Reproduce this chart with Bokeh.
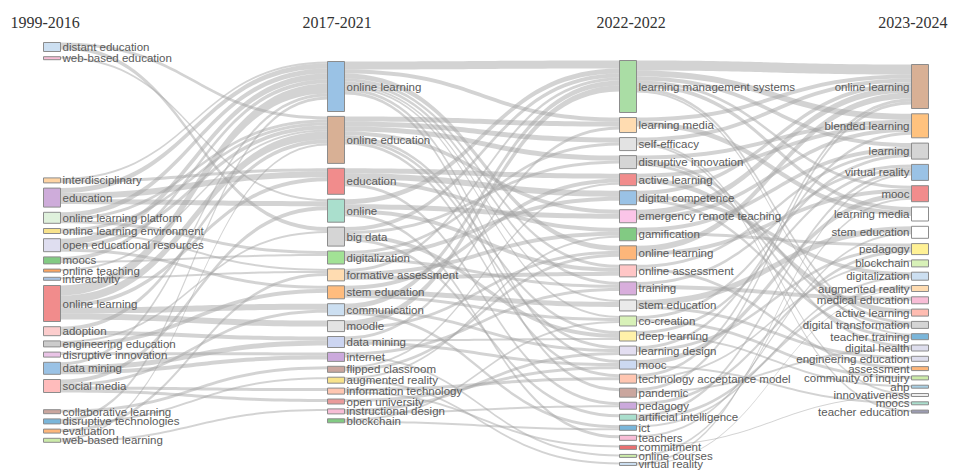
from bokeh.plotting import figure
from bokeh.models import ColumnDataSource, Range1d
from bokeh.embed import file_html
from bokeh.resources import INLINE
from bokeh.core.properties import value
import numpy as np

# ---------------- data ----------------
periods = ["1999-2016", "2017-2021", "2022-2022", "2023-2024"]

c1_names = ["distant education", "web-based education", "interdisciplinary", "education",
            "online learning platform", "online learning environment", "open educational resources",
            "moocs", "online teaching", "interactivity", "online learning", "adoption",
            "engineering education", "disruptive innovation", "data mining", "social media",
            "collaborative learning", "disruptive technologies", "evaluation", "web-based learning"]
c1_weights = [9, 3, 5, 19, 11, 5, 13, 7, 3, 3, 36, 9, 6, 5, 12, 13, 4, 5, 4, 4]
c1_colors = ["#c6dbef", "#f7b6d2", "#ffcf99", "#c9a3d6", "#dcf0d8", "#f7e07f", "#dcdaee",
             "#74c476", "#fd9a4c", "#9ebde0", "#f08080", "#fcc8c8", "#c7c7c7", "#e7bce3",
             "#8fbbe2", "#ffb5b5", "#c49c94", "#6baed6", "#fdae6b", "#c7e9a0"]

c2_names = ["online learning", "online education", "education", "online", "big data",
            "digitalization", "formative assessment", "stem education", "communication", "moodle",
            "data mining", "internet", "flipped classroom", "augmented reality",
            "information technology", "open university", "instructional design", "blockchain"]
c2_weights = [50, 47, 26, 23, 19, 13, 12, 13, 12, 11, 11, 9, 6, 6, 6, 5, 5, 4]
c2_colors = ["#8fbbe2", "#d4a78a", "#f08080", "#a1dcc8", "#d0d0d0", "#98df8a", "#ffd8a8",
             "#ffb570", "#c6dbef", "#e0e0e0", "#c6d0ef", "#c5a0d8", "#c49c94", "#f7e07f",
             "#ffc0a8", "#e89090", "#f7b6d2", "#74c476"]

c3_names = ["learning management systems", "learning media", "self-efficacy", "disruptive innovation",
            "active learning", "digital competence", "emergency remote teaching", "gamification",
            "online learning", "online assessment", "training", "stem education", "co-creation",
            "deep learning", "learning design", "mooc", "technology acceptance model", "pandemic",
            "pedagogy", "artificial intelligence", "ict", "teachers", "commitment",
            "online courses", "virtual reality"]
c3_weights = [52, 15, 13, 13, 12, 14, 13, 13, 14, 12, 13, 11, 10, 10, 9, 9, 9, 9, 7, 6, 5, 5, 4, 3, 3]
c3_colors = ["#a1d99b", "#ffd8a8", "#e0e0e0", "#d0d0d0", "#f08080", "#8fbbe2", "#fbbfe6",
             "#74c476", "#fdae6b", "#ffc0c0", "#d4a5d8", "#e8e8e8", "#d4f0b0", "#fff0a0",
             "#e0daf0", "#c6d5ef", "#ffc0a8", "#c49c94", "#c5a0d8", "#a1dcc8", "#6baed6",
             "#f7b6d2", "#e86060", "#c7e9a0", "#c6dbef"]

c4_names = ["online learning", "blended learning", "learning", "virtual reality", "mooc",
            "learning media", "stem education", "pedagogy", "blockchain", "digitalization",
            "augmented reality", "medical education", "active learning", "digital transformation",
            "teacher training", "digital health", "engineering education", "assessment",
            "community of inquiry", "ahp", "innovativeness", "moocs", "teacher education"]
c4_weights = [44, 24, 16, 16, 16, 14, 12, 11, 7, 8, 6, 7, 7, 7, 6, 6, 5, 4, 4, 3, 3, 3, 3]
c4_colors = ["#d4a78a", "#ffbb70", "#d0d0d0", "#8fbbe2", "#f08080", "#ffffff", "#ffffff",
             "#fff08a", "#d4f0b0", "#c6dbef", "#ffd8a8", "#f7b6d2", "#ffb5a8", "#d0d0d0",
             "#6baed6", "#dadaeb", "#dadaeb", "#fdae6b", "#c7e9a0", "#9ecae1", "#ebebeb",
             "#a1dcc8", "#9090a8"]

links_12 = [
    ("distant education", "big data", 4), ("distant education", "online education", 3),
    ("web-based education", "online", 2),
    ("interdisciplinary", "education", 3), ("interdisciplinary", "online learning", 2),
    ("education", "education", 6), ("education", "online", 5), ("education", "online learning", 5),
    ("online learning platform", "online learning", 5), ("online learning platform", "digitalization", 3),
    ("online learning platform", "online education", 3),
    ("online learning environment", "online education", 3),
    ("online learning environment", "formative assessment", 2),
    ("open educational resources", "online learning", 6), ("open educational resources", "online education", 4),
    ("open educational resources", "stem education", 3),
    ("moocs", "online learning", 4), ("moocs", "digitalization", 2),
    ("online teaching", "online education", 2), ("interactivity", "formative assessment", 2),
    ("online learning", "online learning", 10), ("online learning", "online education", 8),
    ("online learning", "communication", 6), ("online learning", "moodle", 6),
    ("online learning", "education", 4),
    ("adoption", "online education", 4), ("adoption", "data mining", 4),
    ("engineering education", "stem education", 4), ("engineering education", "big data", 2),
    ("disruptive innovation", "internet", 3),
    ("data mining", "data mining", 5), ("data mining", "internet", 4), ("data mining", "online learning", 3),
    ("social media", "open university", 3), ("social media", "online", 4),
    ("social media", "information technology", 3), ("social media", "communication", 3),
    ("collaborative learning", "flipped classroom", 3),
    ("disruptive technologies", "online learning", 3), ("disruptive technologies", "augmented reality", 2),
    ("evaluation", "formative assessment", 3),
    ("web-based learning", "online education", 2), ("web-based learning", "instructional design", 2),
]

links_23 = [
    ("online learning", "learning management systems", 8), ("online learning", "learning media", 4),
    ("online learning", "online learning", 5), ("online learning", "online assessment", 3),
    ("online learning", "training", 3), ("online learning", "stem education", 2),
    ("online learning", "mooc", 3), ("online learning", "pandemic", 3), ("online learning", "co-creation", 2),
    ("online education", "learning media", 5), ("online education", "self-efficacy", 5),
    ("online education", "disruptive innovation", 5), ("online education", "emergency remote teaching", 4),
    ("online education", "deep learning", 3), ("online education", "learning design", 3),
    ("online education", "technology acceptance model", 3),
    ("education", "active learning", 5), ("education", "digital competence", 6),
    ("education", "gamification", 4), ("education", "pedagogy", 3),
    ("online", "emergency remote teaching", 5), ("online", "learning management systems", 5),
    ("online", "online assessment", 4), ("online", "teachers", 3),
    ("big data", "learning management systems", 4), ("big data", "deep learning", 4),
    ("big data", "artificial intelligence", 3), ("big data", "disruptive innovation", 3),
    ("digitalization", "digital competence", 4), ("digitalization", "self-efficacy", 3),
    ("digitalization", "training", 3),
    ("formative assessment", "online assessment", 4), ("formative assessment", "gamification", 4),
    ("formative assessment", "learning management systems", 3),
    ("stem education", "stem education", 5), ("stem education", "active learning", 4),
    ("stem education", "co-creation", 3),
    ("communication", "ict", 3), ("communication", "learning management systems", 5),
    ("communication", "learning design", 3),
    ("moodle", "learning management systems", 6), ("moodle", "online learning", 3),
    ("data mining", "deep learning", 2), ("data mining", "learning media", 3), ("data mining", "mooc", 3),
    ("internet", "online courses", 2), ("internet", "training", 3),
    ("flipped classroom", "active learning", 2), ("flipped classroom", "online learning", 3),
    ("augmented reality", "virtual reality", 2), ("augmented reality", "gamification", 2),
    ("information technology", "technology acceptance model", 3), ("information technology", "commitment", 2),
    ("open university", "mooc", 3),
    ("instructional design", "learning design", 3), ("instructional design", "pedagogy", 2),
    ("blockchain", "co-creation", 2), ("blockchain", "ict", 2),
]

links_34 = [
    ("learning management systems", "online learning", 10), ("learning management systems", "blended learning", 6),
    ("learning management systems", "learning", 4), ("learning management systems", "learning media", 4),
    ("learning management systems", "mooc", 3), ("learning management systems", "digital transformation", 3),
    ("learning management systems", "teacher training", 2),
    ("learning media", "learning media", 5), ("learning media", "online learning", 4),
    ("self-efficacy", "online learning", 4), ("self-efficacy", "innovativeness", 2),
    ("self-efficacy", "teacher education", 2),
    ("disruptive innovation", "digital transformation", 3), ("disruptive innovation", "blended learning", 4),
    ("disruptive innovation", "digital health", 3),
    ("active learning", "active learning", 5), ("active learning", "blended learning", 4),
    ("digital competence", "digitalization", 4), ("digital competence", "teacher training", 3),
    ("digital competence", "online learning", 4),
    ("emergency remote teaching", "online learning", 6), ("emergency remote teaching", "blended learning", 4),
    ("gamification", "learning", 4), ("gamification", "pedagogy", 3),
    ("online learning", "online learning", 6), ("online learning", "mooc", 4),
    ("online assessment", "assessment", 3), ("online assessment", "learning", 3),
    ("training", "medical education", 4), ("training", "virtual reality", 3),
    ("stem education", "stem education", 6), ("stem education", "engineering education", 3),
    ("co-creation", "community of inquiry", 3), ("co-creation", "learning", 3),
    ("deep learning", "virtual reality", 3), ("deep learning", "ahp", 2),
    ("learning design", "pedagogy", 3), ("learning design", "blended learning", 3),
    ("mooc", "mooc", 5), ("mooc", "moocs", 2),
    ("technology acceptance model", "online learning", 3), ("technology acceptance model", "blockchain", 2),
    ("pandemic", "online learning", 3), ("pandemic", "digital health", 2),
    ("pedagogy", "pedagogy", 3),
    ("artificial intelligence", "augmented reality", 3), ("artificial intelligence", "virtual reality", 3),
    ("ict", "digitalization", 2), ("teachers", "stem education", 2), ("commitment", "innovativeness", 1),
    ("online courses", "mooc", 2),
    ("virtual reality", "virtual reality", 2), ("virtual reality", "augmented reality", 1),
]

# ---------------- layout ----------------
W, H = 953, 470
col_x = [43, 327, 619, 911]
box_w = 17
col_top = [42, 61, 60, 64]
col_gap = [5.2, 4.9, 5.04, 5.3]
extra_gap = {(0, 1): 113, (0, 15): 12}
k = 1.0  # px per weight unit

columns = [(c1_names, c1_weights, c1_colors), (c2_names, c2_weights, c2_colors),
           (c3_names, c3_weights, c3_colors), (c4_names, c4_weights, c4_colors)]

nodes = []
for ci, (names, weights, colors) in enumerate(columns):
    y = col_top[ci]
    pos = {}
    for ni, (n, w) in enumerate(zip(names, weights)):
        pos[n] = (y, y + w * k)
        y = y + w * k + col_gap[ci] + extra_gap.get((ci, ni), 0)
    nodes.append(pos)

# ---------------- links ----------------
t = np.linspace(0, 1, 40)
s = 3 * t ** 2 - 2 * t ** 3
xs_all, ys_all = [], []
for ci, links in enumerate([links_12, links_23, links_34]):
    src_pos, dst_pos = nodes[ci], nodes[ci + 1]
    out_off = {n: src_pos[n][0] for n in src_pos}
    in_off = {n: dst_pos[n][0] for n in dst_pos}
    out_order = sorted(links, key=lambda L: (src_pos[L[0]][0], dst_pos[L[1]][0]))
    src_y = {}
    for L in out_order:
        src_y[id(L)] = out_off[L[0]]
        out_off[L[0]] += L[2] * k
    in_order = sorted(links, key=lambda L: (dst_pos[L[1]][0], src_pos[L[0]][0]))
    dst_y = {}
    for L in in_order:
        dst_y[id(L)] = in_off[L[1]]
        in_off[L[1]] += L[2] * k
    x0 = col_x[ci] + box_w
    x1 = col_x[ci + 1]
    xm = (x0 + x1) / 2
    bx = (1 - t) ** 3 * x0 + 3 * (1 - t) ** 2 * t * xm + 3 * (1 - t) * t ** 2 * xm + t ** 3 * x1
    for L in links:
        w = L[2] * k
        ya, yb = src_y[id(L)], dst_y[id(L)]
        top = ya + (yb - ya) * s
        bot = top + w
        xs_all.append(list(bx) + list(bx[::-1]))
        ys_all.append(list(top) + list(bot[::-1]))

p = figure(width=W, height=H, output_backend="svg", toolbar_location=None,
           x_range=Range1d(0, W), y_range=Range1d(H, 0), min_border=0)
p.axis.visible = False
p.grid.visible = False
p.outline_line_color = None
p.background_fill_color = "white"

p.patches(xs_all, ys_all, fill_color="#a3a3a3", fill_alpha=0.48, line_color=None)

bx_l, bx_r, by_t, by_b, bcol = [], [], [], [], []
lx, ly, lt, la = [], [], [], []
for ci, (names, weights, colors) in enumerate(columns):
    for n, c in zip(names, colors):
        y0, y1 = nodes[ci][n]
        bx_l.append(col_x[ci]); bx_r.append(col_x[ci] + box_w)
        by_t.append(y0); by_b.append(y1); bcol.append(c)
        ly.append((y0 + y1) / 2); lt.append(n)
        if ci < 3:
            lx.append(col_x[ci] + box_w + 2); la.append("left")
        else:
            lx.append(col_x[ci] - 2); la.append("right")

p.quad(left=bx_l, right=bx_r, top=by_t, bottom=by_b, fill_color=bcol, fill_alpha=0.9,
       line_color="#8c8c8c", line_width=1)

lsrc = ColumnDataSource(dict(x=lx, y=ly, text=lt, align=la))
p.text(x="x", y="y", text="text", text_align="align", source=lsrc, text_baseline="middle",
       text_font=value("Liberation Sans"), text_font_size="11.5px", text_color="#5a5a5a")

hx = [10, 302, 596, 947]
ha = ["left", "left", "left", "right"]
hsrc = ColumnDataSource(dict(x=hx, y=[22] * 4, text=periods, align=ha))
p.text(x="x", y="y", text="text", text_align="align", source=hsrc, text_baseline="middle",
       text_font=value("Liberation Serif"), text_font_size="16px", text_color="#333333")

open("out.html", "w").write(file_html(p, INLINE))
